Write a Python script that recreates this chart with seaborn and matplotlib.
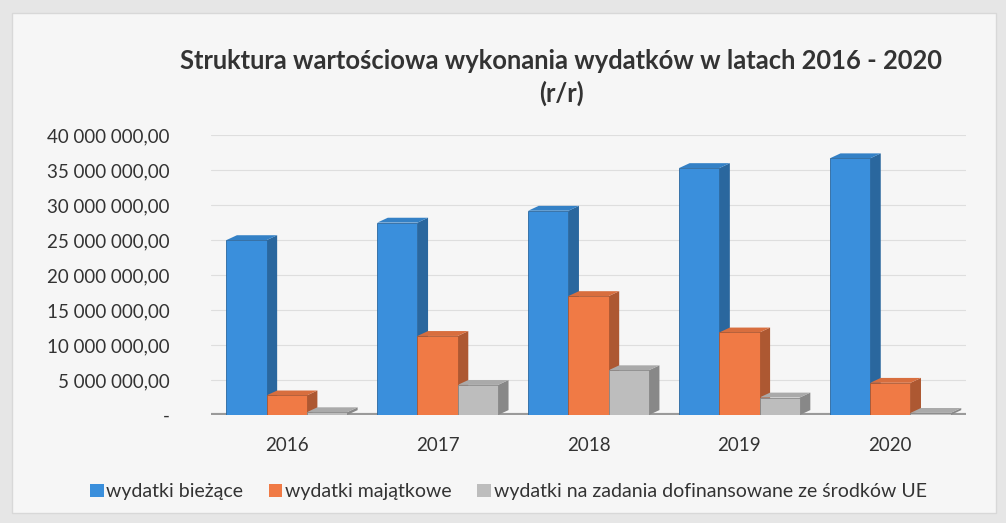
import numpy as np
import pandas as pd
import seaborn as sns
import matplotlib.pyplot as plt
from matplotlib.patches import Polygon, Rectangle
from matplotlib.ticker import FuncFormatter
import matplotlib.colors as mcolors

years = ["2016", "2017", "2018", "2019", "2020"]
series = ["wydatki bieżące", "wydatki majątkowe",
          "wydatki na zadania dofinansowane ze środków UE"]
biezace = [25.0e6, 27.5e6, 29.2e6, 35.3e6, 36.7e6]
majatkowe = [2.8e6, 11.3e6, 17.0e6, 11.8e6, 4.6e6]
ue = [0.4e6, 4.3e6, 6.4e6, 2.5e6, 0.3e6]
colors = ["#3a8fdc", "#f07a45", "#bdbdbd"]

df = pd.DataFrame({
    "rok": years * 3,
    "seria": [series[0]] * 5 + [series[1]] * 5 + [series[2]] * 5,
    "wartosc": biezace + majatkowe + ue,
})

sns.set_theme(style="white")
plt.rcParams["font.family"] = ["Lato", "DejaVu Sans"]

fig = plt.figure(figsize=(10.06, 5.23), dpi=100, facecolor="#e6e6e6")
fig.patches.append(Rectangle((0.012, 0.02), 0.978, 0.955, transform=fig.transFigure,
                             facecolor="#f6f6f6", edgecolor="#d8d8d8", lw=1, zorder=-10))
ax = fig.add_axes([0.21, 0.2065, 0.75, 0.535])
ax.set_facecolor("none")

sns.barplot(data=df, x="rok", y="wartosc", hue="seria", palette=colors,
            width=0.8, saturation=1, ax=ax, legend=False, zorder=3)

# pseudo 3D faces
dx, dy = 0.07, 0.7e6
for patch in list(ax.patches):
    x0, w, h = patch.get_x(), patch.get_width(), patch.get_height()
    fc = patch.get_facecolor()
    dark = tuple(np.array(mcolors.to_rgb(fc)) * 0.72)
    light = tuple(np.array(mcolors.to_rgb(fc)) * 0.9)
    side = Polygon([(x0 + w, 0), (x0 + w + dx, dy), (x0 + w + dx, h + dy), (x0 + w, h)],
                   closed=True, facecolor=dark, edgecolor="none", zorder=2)
    top = Polygon([(x0, h), (x0 + dx, h + dy), (x0 + w + dx, h + dy), (x0 + w, h)],
                  closed=True, facecolor=light, edgecolor="none", zorder=2)
    ax.add_patch(side)
    ax.add_patch(top)
    patch.set_edgecolor(dark)
    patch.set_linewidth(0.6)

ax.set_ylim(0, 40e6)
ax.set_xlim(-0.5, 4.5)
ax.set_yticks(np.arange(0, 40e6 + 1, 5e6))
ax.yaxis.set_major_formatter(FuncFormatter(
    lambda v, p: "-" if v == 0 else f"{v:,.2f}".replace(",", " ").replace(".", ",")))
ax.grid(axis="y", color="#dedede", lw=0.8, zorder=0)
ax.axhline(0, color="#9a9a9a", lw=3, zorder=1)
for s in ax.spines.values():
    s.set_visible(False)
ax.tick_params(axis="y", length=0, labelsize=13.5, labelcolor="#333333", pad=30)
ax.tick_params(axis="x", length=0, labelsize=13.5, labelcolor="#333333", pad=16)
ax.set_xlabel("")
ax.set_ylabel("")

fig.text(0.558, 0.852, "Struktura wartościowa wykonania wydatków w latach 2016 - 2020\n(r/r)",
         ha="center", va="center", fontsize=18.4, fontweight="bold", color="#333333",
         linespacing=1.35)

handles = [Rectangle((0, 0), 1, 1, facecolor=c, edgecolor="none") for c in colors]
fig.legend(handles, series, loc="center left", bbox_to_anchor=(0.072, 0.06), ncol=3,
           frameon=False, fontsize=14, handlelength=0.7, handleheight=0.7,
           handletextpad=0.15, columnspacing=1.3, labelcolor="#333333")

fig.savefig("out.png", dpi=100, facecolor=fig.get_facecolor())
